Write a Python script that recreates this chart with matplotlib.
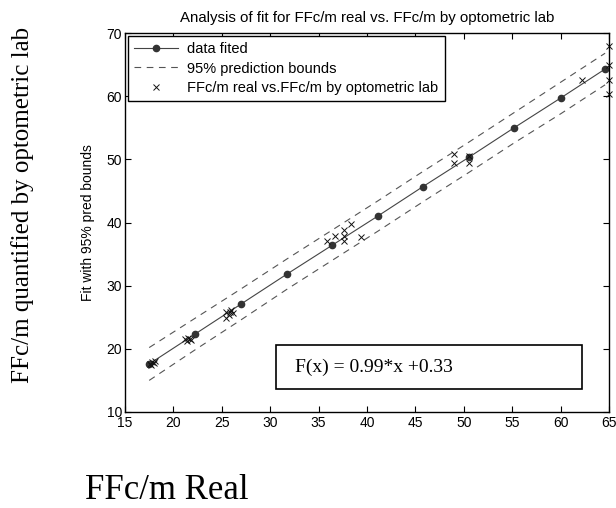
import matplotlib
matplotlib.use("Agg")
import matplotlib.pyplot as plt
from matplotlib.patches import Rectangle

# fitted curve points (dots) and 95% prediction bounds
fit_x = [17.5, 22.2, 27.0, 31.7, 36.4, 41.1, 45.8, 50.5, 55.2, 60.0, 64.6]
fit_y = [17.6, 22.3, 27.1, 31.8, 36.4, 41.0, 45.7, 50.3, 55.0, 59.7, 64.3]
upper_y = [20.2, 24.8, 29.5, 34.2, 38.8, 43.4, 48.1, 52.7, 57.4, 62.2, 66.8]
lower_y = [15.0, 19.8, 24.6, 29.4, 34.0, 38.6, 43.3, 47.9, 52.6, 57.2, 61.8]

# measured data: FFc/m real vs. FFc/m by optometric lab
data_x = [17.6, 17.8, 18.0, 17.7, 18.1,
          21.2, 21.5, 21.8, 21.4, 21.7,
          25.4, 25.7, 26.0, 26.2, 25.8, 25.4,
          35.9, 36.7, 37.6, 37.6, 37.6, 38.4, 39.4,
          49.0, 49.0, 50.5, 50.5,
          62.2, 65.0, 65.0, 65.0, 65.0]
data_y = [17.6, 17.9, 17.7, 17.5, 18.0,
          21.5, 21.7, 21.4, 21.3, 21.6,
          25.9, 25.3, 26.1, 25.6, 25.8, 24.9,
          37.0, 37.8, 38.8, 37.9, 37.1, 39.7, 37.7,
          50.8, 49.4, 50.6, 49.4,
          62.5, 67.9, 64.9, 62.5, 60.3]

x_ticks = [15, 20, 25, 30, 35, 40, 45, 50, 55, 60, 65]
y_ticks = [10, 20, 30, 40, 50, 60, 70]

fit_text = "F(x) = 0.99*x +0.33"
title = "Analysis of fit for FFc/m real vs. FFc/m by optometric lab"

plt.rcParams["font.family"] = "Liberation Sans"

fig = plt.figure(figsize=(6.16, 5.08), dpi=100)
ax = fig.add_axes([0.2029, 0.189, 0.7857, 0.746])

ax.plot(fit_x, fit_y, "-", color="#444444", lw=0.8, marker="o", ms=4.5,
        mfc="#333333", mec="#333333", label="data fited")
ax.plot(fit_x, upper_y, "--", color="#555555", lw=0.8, dashes=(6, 5),
        label="95% prediction bounds")
ax.plot(fit_x, lower_y, "--", color="#555555", lw=0.8, dashes=(6, 5))
ax.plot(data_x, data_y, "x", color="#111111", ms=4, mew=0.7, ls="none",
        label="FFc/m real vs.FFc/m by optometric lab", clip_on=False)

ax.set_xlim(15, 65)
ax.set_ylim(10, 70)
ax.set_xticks(x_ticks)
ax.set_yticks(y_ticks)
ax.tick_params(direction="in", top=True, right=True, length=4, width=0.8,
               labelsize=10, pad=2)
ax.tick_params(axis="x", pad=3)
for sp in ax.spines.values():
    sp.set_linewidth(1.0)

ax.set_title(title, fontsize=10.8, pad=8)
ax.set_ylabel("Fit with 95% pred bounds", fontsize=10, labelpad=8)

leg = ax.legend(loc="upper left", fontsize=10.5, fancybox=False, framealpha=1,
                edgecolor="black", borderaxespad=0.2, handlelength=3.0,
                labelspacing=0.35, borderpad=0.45, handletextpad=0.6)
leg.get_frame().set_linewidth(1.0)

# box with the fitted equation
ax.add_patch(Rectangle((0.312, 0.061), 0.632, 0.116, transform=ax.transAxes,
                       fill=False, edgecolor="black", lw=1.2))
ax.text(0.351, 0.119, fit_text, transform=ax.transAxes, va="center",
        fontsize=14, family="Liberation Serif")

# outer labels of the figure
fig.text(0.036, 0.596, "FFc/m quantified by optometric lab", rotation=90,
         ha="center", va="center", fontsize=18, family="Liberation Serif")
fig.text(0.271, 0.035, "FFc/m Real", ha="center", va="center",
         fontsize=25, family="Liberation Serif")

fig.savefig("out.png", dpi=100)
